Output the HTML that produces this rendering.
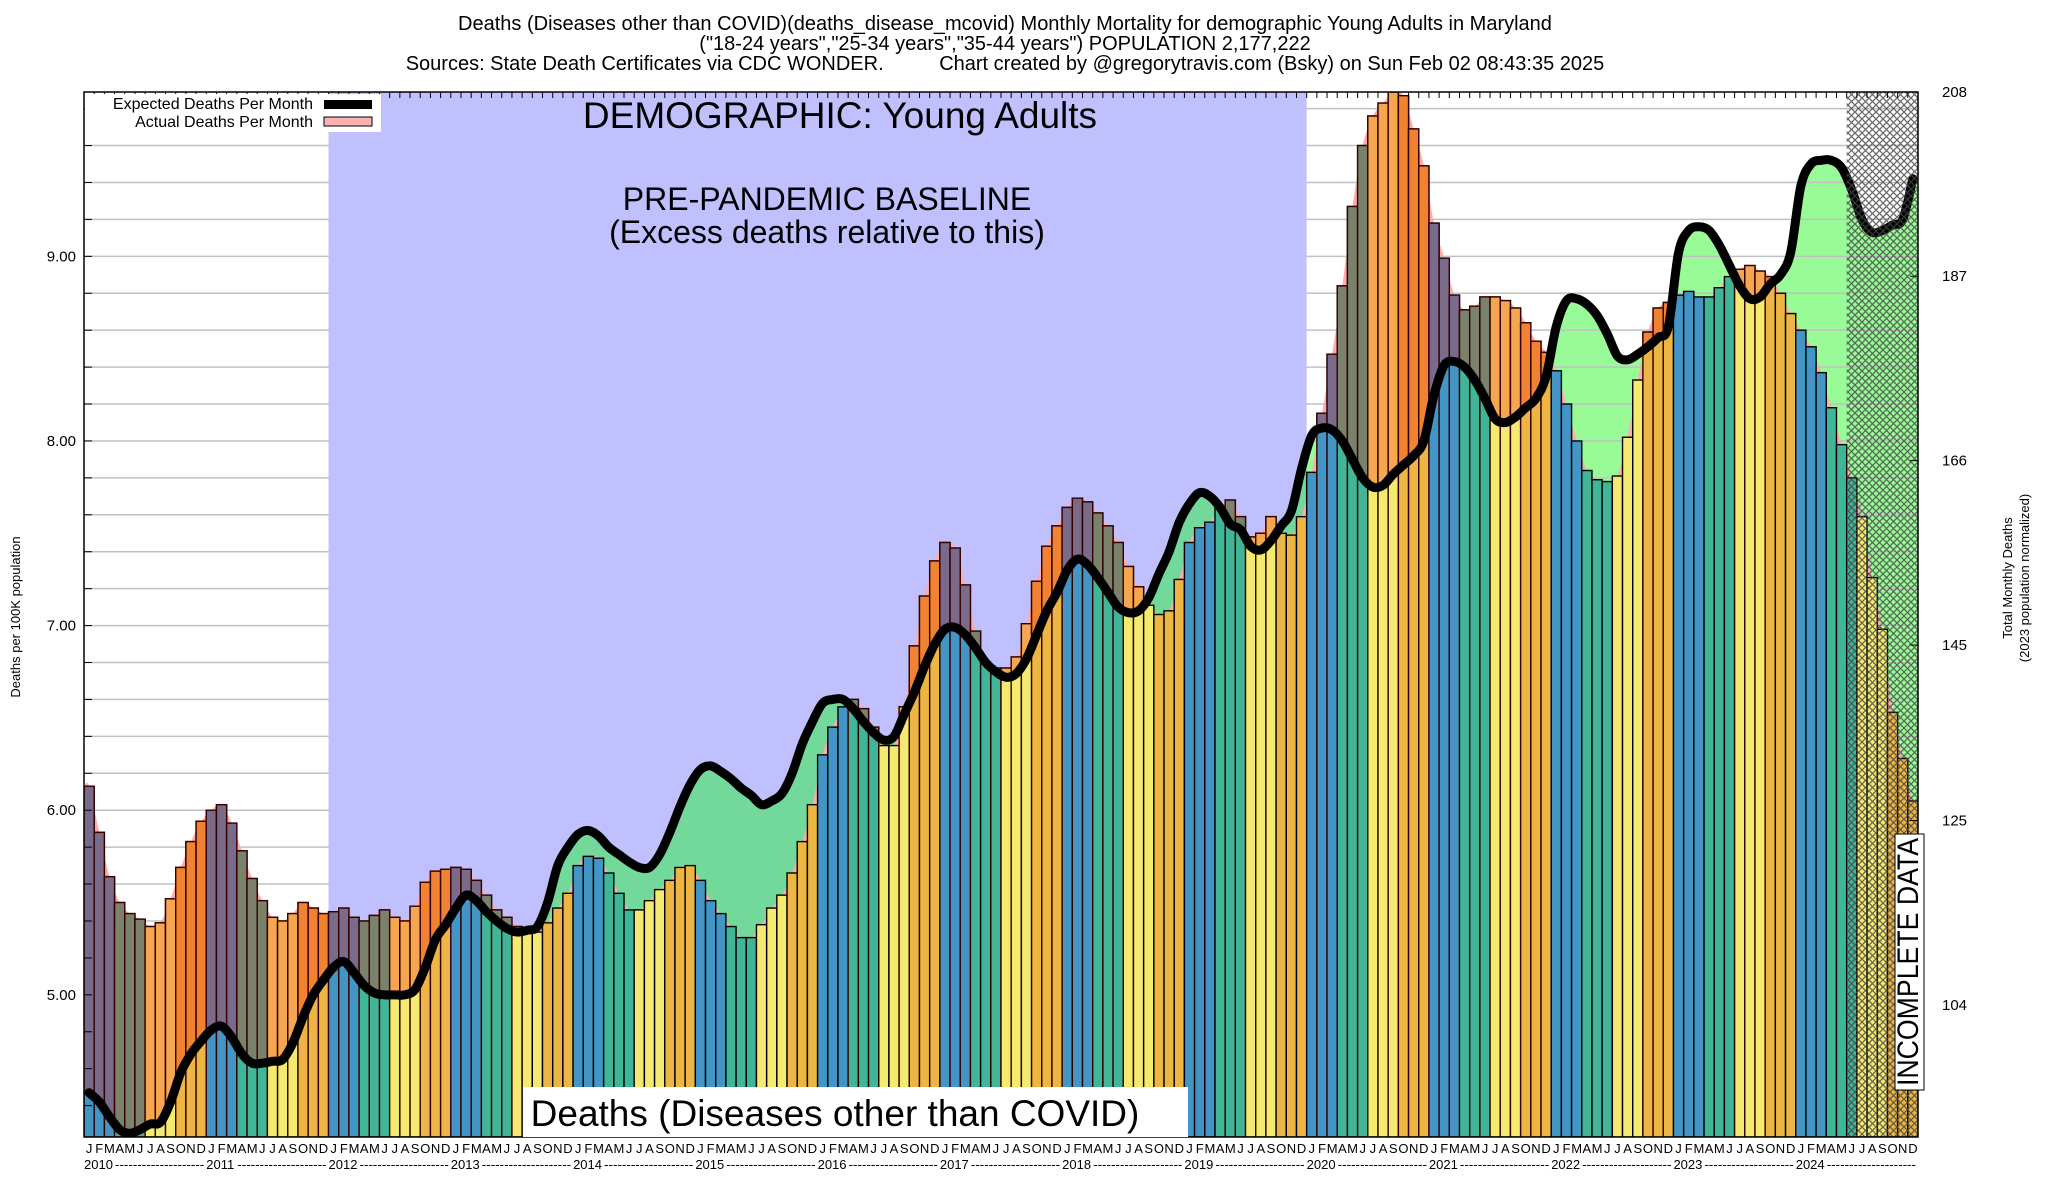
<!DOCTYPE html>
<html><head><meta charset="utf-8">
<style>
html,body{margin:0;padding:0;background:#fff;}
svg{display:block;font-family:"Liberation Sans",sans-serif;}
</style></head>
<body>
<svg id="chart" width="2048" height="1200" viewBox="0 0 2048 1200" xmlns="http://www.w3.org/2000/svg">
<defs>
<pattern id="hatch" width="7" height="7" patternUnits="userSpaceOnUse">
<path d="M0,0 L7,7 M7,0 L0,7" stroke="#444" stroke-width="1.3"/>
</pattern>
<clipPath id="plotclip"><rect x="84" y="92" width="1834" height="1045"/></clipPath>
</defs>
<g font-size="20" text-anchor="middle" fill="#000">
<text x="1005" y="30">Deaths (Diseases other than COVID)(deaths_disease_mcovid) Monthly Mortality for demographic Young Adults in Maryland</text>
<text x="1005" y="50">("18-24 years","25-34 years","35-44 years") POPULATION 2,177,222</text>
<text x="1005" y="70" xml:space="preserve">Sources: State Death Certificates via CDC WONDER.          Chart created by @gregorytravis.com (Bsky) on Sun Feb 02 08:43:35 2025</text>
</g>
<g id="plot" clip-path="url(#plotclip)"></g>
<rect x="84" y="92" width="1834" height="1045" fill="none" stroke="#000" stroke-width="1.5"/>
<g id="axes"></g>
<g>
<rect x="85" y="94" width="296" height="38" fill="#fff"/>
<text x="313" y="109" font-size="16" text-anchor="end">Expected Deaths Per Month</text>
<text x="313" y="127" font-size="16" text-anchor="end">Actual Deaths Per Month</text>
<rect x="324" y="100" width="48" height="9" fill="#000"/>
<rect x="324" y="117" width="48" height="9" fill="#ffb0b0" stroke="#000" stroke-width="1"/>
</g>
<text x="840" y="128" font-size="37" text-anchor="middle">DEMOGRAPHIC: Young Adults</text>
<text x="827" y="210" font-size="32" text-anchor="middle">PRE-PANDEMIC BASELINE</text>
<text x="827" y="243" font-size="32" text-anchor="middle">(Excess deaths relative to this)</text>
<g>
<rect x="523" y="1087" width="665" height="50" fill="#fff"/>
<text x="835" y="1126" font-size="37" text-anchor="middle">Deaths (Diseases other than COVID)</text>
</g>
<g>
<rect x="1895" y="834" width="29" height="256" fill="#fff" stroke="#000" stroke-width="1"/>
<text transform="translate(1918,1086) rotate(-90)" font-size="30" textLength="248" lengthAdjust="spacingAndGlyphs">INCOMPLETE DATA</text>
</g>
<text transform="translate(20,617) rotate(-90)" font-size="13" text-anchor="middle">Deaths per 100K population</text>
<text transform="translate(2012,578) rotate(-90)" font-size="13" text-anchor="middle">Total Monthly Deaths</text>
<text transform="translate(2029,578) rotate(-90)" font-size="13" text-anchor="middle">(2023 population normalized)</text>
</svg>
<script>
const actual = [
6.13,5.88,5.64,5.50,5.44,5.41,5.37,5.39,5.52,5.69,5.83,5.94,
6.00,6.03,5.93,5.78,5.63,5.51,5.42,5.40,5.44,5.50,5.47,5.44,
5.45,5.47,5.42,5.40,5.43,5.46,5.42,5.40,5.48,5.61,5.67,5.68,
5.69,5.68,5.62,5.54,5.46,5.42,5.37,5.34,5.34,5.39,5.47,5.55,
5.70,5.75,5.74,5.66,5.55,5.46,5.46,5.51,5.57,5.62,5.69,5.70,
5.62,5.51,5.44,5.37,5.31,5.31,5.38,5.47,5.54,5.66,5.83,6.03,
6.30,6.45,6.56,6.60,6.55,6.45,6.35,6.35,6.56,6.89,7.16,7.35,
7.45,7.42,7.22,6.97,6.80,6.77,6.77,6.83,7.01,7.24,7.43,7.54,
7.64,7.69,7.67,7.61,7.54,7.45,7.32,7.21,7.11,7.06,7.08,7.25,
7.45,7.53,7.56,7.64,7.68,7.59,7.48,7.50,7.59,7.50,7.49,7.59,
7.83,8.15,8.47,8.84,9.27,9.60,9.76,9.83,9.89,9.87,9.69,9.49,
9.18,8.99,8.79,8.71,8.73,8.78,8.78,8.76,8.72,8.64,8.54,8.48,
8.38,8.20,8.00,7.84,7.79,7.78,7.81,8.02,8.33,8.59,8.72,8.75,
8.79,8.81,8.78,8.78,8.83,8.89,8.93,8.95,8.92,8.89,8.80,8.69,
8.60,8.51,8.37,8.18,7.98,7.80,7.59,7.26,6.98,6.53,6.28,6.05];
const expected = [
4.47,4.42,4.34,4.27,4.25,4.27,4.30,4.31,4.42,4.58,4.68,4.75,
4.81,4.83,4.77,4.68,4.63,4.63,4.64,4.65,4.74,4.88,5.00,5.08,
5.15,5.18,5.12,5.05,5.01,5.00,5.00,5.00,5.03,5.15,5.30,5.38,
5.47,5.54,5.51,5.45,5.40,5.36,5.34,5.35,5.37,5.50,5.70,5.80,
5.87,5.89,5.86,5.80,5.76,5.72,5.69,5.69,5.76,5.88,6.02,6.14,
6.22,6.24,6.21,6.17,6.12,6.08,6.03,6.05,6.09,6.20,6.36,6.48,
6.58,6.60,6.60,6.55,6.48,6.42,6.38,6.40,6.52,6.64,6.78,6.90,
6.98,6.99,6.95,6.88,6.80,6.75,6.72,6.74,6.82,6.95,7.08,7.18,
7.30,7.36,7.33,7.26,7.18,7.10,7.07,7.08,7.15,7.28,7.40,7.56,
7.66,7.72,7.70,7.64,7.55,7.52,7.43,7.41,7.46,7.54,7.62,7.85,
8.03,8.07,8.06,8.00,7.90,7.80,7.75,7.76,7.82,7.87,7.92,8.00,
8.25,8.41,8.43,8.40,8.33,8.23,8.12,8.10,8.13,8.18,8.23,8.35,
8.62,8.76,8.77,8.74,8.68,8.58,8.46,8.44,8.47,8.51,8.56,8.62,
9.02,9.14,9.16,9.14,9.06,8.95,8.84,8.77,8.78,8.85,8.90,9.02,
9.38,9.50,9.52,9.52,9.48,9.36,9.20,9.13,9.14,9.17,9.20,9.42];
const years = [2010,2011,2012,2013,2014,2015,2016,2017,2018,2019,2020,2021,2022,2023,2024];
const monthLetters = ["J","F","M","A","M","J","J","A","S","O","N","D"];
const leftTicks = ["5.00","6.00","7.00","8.00","9.00"];
const rightTicks = [104,125,145,166,187,208];
const baselineStart = 24, baselineEnd = 120, incompleteStart = 173;

const NS = "http://www.w3.org/2000/svg";
const L=84, R=1918, T=92, B=1137, VMIN=4.23, VMAX=9.89, DPV=21.03;
const N = actual.length;
const bw = (R-L)/180;
const xs = i => L + i*bw;
const xc = i => L + (i+0.5)*bw;
const yv = v => T + (VMAX - v)/(VMAX - VMIN)*(B - T);
function mk(tag, attrs, parent){const e=document.createElementNS(NS,tag);for(const k in attrs)e.setAttribute(k,attrs[k]);parent.appendChild(e);return e;}
function smooth(pts){let d="M"+pts[0][0]+","+pts[0][1];for(let i=0;i<pts.length-1;i++){const p0=pts[Math.max(0,i-1)],p1=pts[i],p2=pts[i+1],p3=pts[Math.min(pts.length-1,i+2)];
const c1x=p1[0]+(p2[0]-p0[0])/6,c1y=p1[1]+(p2[1]-p0[1])/6,c2x=p2[0]-(p3[0]-p1[0])/6,c2y=p2[1]-(p3[1]-p1[1])/6;d+=" C"+c1x+","+c1y+" "+c2x+","+c2y+" "+p2[0]+","+p2[1];}return d;}

const plot = document.getElementById("plot");
const axes = document.getElementById("axes");
const bg = mk("rect",{x:L,y:T,width:R-L,height:B-T,fill:"#fff"},plot);


const blue = mk("rect",{x:xs(baselineStart),y:T,width:xs(baselineEnd)-xs(baselineStart),height:B-T,fill:"#c0c0ff"},plot);



const expPts = expected.map((v,i)=>[xc(i),yv(v)]);
const actPts = actual.map((v,i)=>[xc(i),yv(v)]);
const expExt = [[L,yv(expected[0])]].concat(expPts,[[R,yv(expected[N-1])]]);
const actExt = [[L,yv(actual[0])]].concat(actPts,[[R,yv(actual[N-1])]]);
const cp = mk("clipPath",{id:"blueclip"},document.querySelector("defs"));
mk("rect",{x:xs(baselineStart),y:T,width:xs(baselineEnd)-xs(baselineStart),height:B-T},cp);
const gArea = mk("path",{d:smooth(expExt)+" L"+R+","+B+" L"+L+","+B+" Z",fill:"#98fb98"},plot);


const gArea2 = mk("path",{d:smooth(expExt)+" L"+R+","+B+" L"+L+","+B+" Z",fill:"#72d99a"},plot);
gArea2.setAttribute('clip-path','url(#blueclip)');


const pArea = mk("path",{d:smooth(actExt)+" L"+R+","+B+" L"+L+","+B+" Z",fill:"#ffabab"},plot);



for(let v=4.4; v<VMAX; v+=0.2){
  const y=yv(v);
  const g1 = mk("line",{x1:L,x2:xs(baselineStart),y1:y,y2:y,stroke:"#c0c0c0","stroke-width":1.5},plot);
  
  
  const g2 = mk("line",{x1:xs(baselineEnd),x2:R,y1:y,y2:y,stroke:"#c0c0c0","stroke-width":1.5},plot);
  
  
  const tk = mk("line",{x1:L,x2:L+8,y1:y,y2:y,stroke:"#000","stroke-width":1},axes);
  
  
}

const pure = ["#4395c6","#4395c6","#4395c6","#40b597","#40b597","#40b597","#f5ea70","#f5ea70","#f5ea70","#edb543","#edb543","#edb543"];
const mixed = ["#7a6b8b","#7a6b8b","#7a6b8b","#7a826b","#7a826b","#7a826b","#f6a650","#f6a650","#f6a650","#f08232","#f08232","#f08232"];
for(let i=0;i<N;i++){
  const m=i%12, x=xs(i), ya=yv(actual[i]), ye=yv(expected[i]);
  const excess = actual[i]>expected[i];
  const bar = mk("rect",{x:x,y:ya,width:bw,height:B-ya,fill:pure[m],stroke:excess?"#300":"#000","stroke-width":1.4},plot);
  
  
  if(excess){
    const ex = mk("rect",{x:x,y:ya,width:bw,height:ye-ya,fill:mixed[m],stroke:"#300","stroke-width":1.4},plot);
    
    
  }
}
const line = mk("path",{d:smooth(expPts),fill:"none",stroke:"#000","stroke-width":9,"stroke-linejoin":"round","stroke-linecap":"round"},plot);


const hatch = mk("rect",{x:xs(incompleteStart),y:T,width:R-xs(incompleteStart),height:B-T,fill:"url(#hatch)",opacity:0.8},plot);



for(let i=0;i<=N;i++){
  const t = mk("line",{x1:xs(i),x2:xs(i),y1:T,y2:T+6,stroke:"#000","stroke-width":1},axes);
  
  
}
leftTicks.forEach(s=>{
  const t = mk("text",{x:76,y:yv(parseFloat(s))+5,"font-size":15,"text-anchor":"end"},axes);
  t.textContent = s;
  
  
});
rightTicks.forEach(n=>{
  const y = yv(n/DPV);
  const t = mk("text",{x:1942,y:y+5,"font-size":15},axes);
  t.textContent = n;
  
  
  const tk = mk("line",{x1:R-8,x2:R,y1:y,y2:y,stroke:"#000","stroke-width":1},axes);
  
  
});
for(let i=0;i<N;i++){
  const t = mk("text",{x:xc(i),y:1153,"font-size":13,"text-anchor":"middle"},axes);
  t.textContent = monthLetters[i%12];
  
  
}
years.forEach((yr,k)=>{
  const x0 = xs(k*12);
  const t = mk("text",{x:x0,y:1169,"font-size":13},axes);
  t.textContent = yr;
  
  
  const d = mk("text",{x:x0+31,y:1169,"font-size":13,textLength:12*bw-33,lengthAdjust:"spacingAndGlyphs"},axes);
  d.textContent = "--------------------";
  
  
});
</script>
</body></html>
